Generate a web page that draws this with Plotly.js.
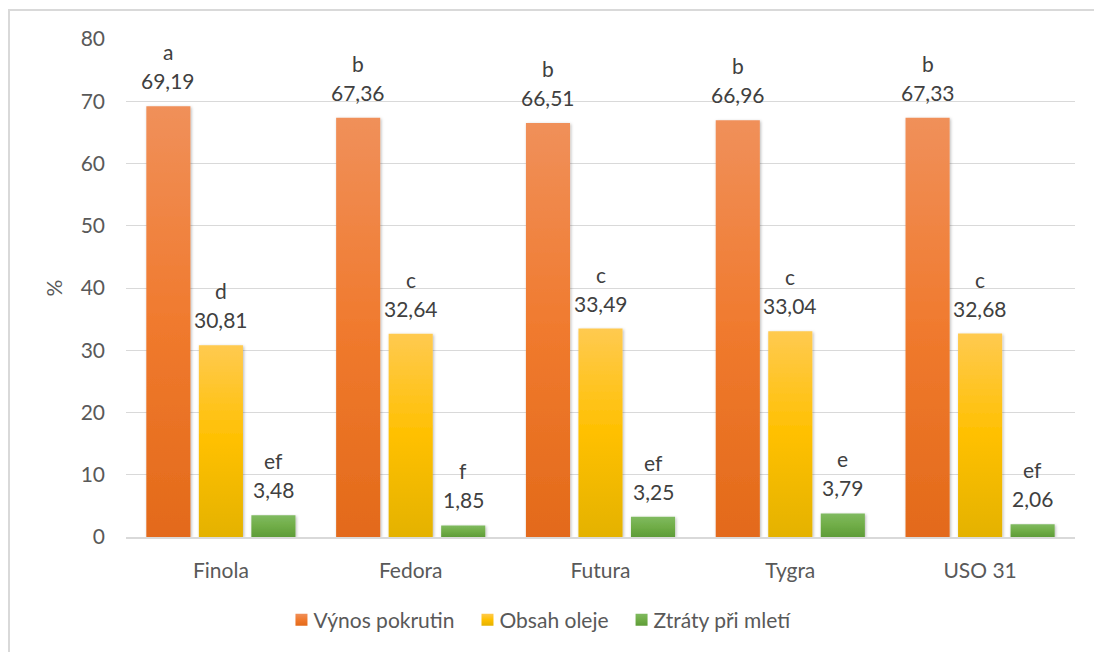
<!DOCTYPE html>
<html>
<head>
<meta charset="utf-8">
<script src="https://cdn.plot.ly/plotly-3.0.1.min.js"></script>
<style>
  html, body { margin: 0; padding: 0; background: #ffffff; overflow: hidden; }
  #wrap { position: relative; width: 1094px; height: 652px; }
  #chart { position: absolute; left: 0; top: 0; width: 1094px; height: 652px; }
  #frame { position: absolute; left: 8px; top: 9px; width: 1200px; height: 800px;
           border: 2px solid #d9d9d9; pointer-events: none; box-sizing: border-box; }
</style>
</head>
<body>
<div id="wrap">
  <div id="chart"></div>
  <div id="frame"></div>
</div>
<script>
// Odrůdy konopí
const categories = ['Finola', 'Fedora', 'Futura', 'Tygra', 'USO 31'];

// Sledované ukazatele (%)
const seriesNames = ['Výnos pokrutin', 'Obsah oleje', 'Ztráty při mletí'];
const vynosPokrutin = [69.19, 67.36, 66.51, 66.96, 67.33];
const obsahOleje    = [30.81, 32.64, 33.49, 33.04, 32.68];
const ztratyPriMleti = [3.48, 1.85, 3.25, 3.79, 2.06];

// Označení statisticky průkazných rozdílů
const vynosLetters  = ['a', 'b', 'b', 'b', 'b'];
const olejLetters   = ['d', 'c', 'c', 'c', 'c'];
const ztratyLetters = ['ef', 'f', 'ef', 'e', 'ef'];

const yTicks = [0, 10, 20, 30, 40, 50, 60, 70, 80];

const seriesValues = [vynosPokrutin, obsahOleje, ztratyPriMleti];
const seriesLetters = [vynosLetters, olejLetters, ztratyLetters];

// Barvy sloupců: horní, střední a spodní odstín přechodu
const gradients = [
  ['#f0905a', '#f07a2e', '#e36a1a'],
  ['#ffca50', '#ffc000', '#e4b200'],
  ['#80ba60', '#70ad47', '#5e9c38']
];

const FONT = 'Lato, Open Sans, sans-serif';
const FS = 21;
const labelColor = '#404040';
const axisColor = '#595959';
const BARGAP = 0.17;
const GROUPGAP = 0.16;

const traces = seriesValues.map((vals, k) => ({
  type: 'bar',
  name: seriesNames[k],
  x: categories,
  y: vals,
  marker: { color: gradients[k][1], line: { width: 0 } },
  hoverinfo: 'skip'
}));

// Popisky nad sloupci: hodnota a písmeno skupiny
const annotations = [];
const slot = (1 - BARGAP) / seriesValues.length;
seriesValues.forEach((vals, k) => {
  vals.forEach((v, i) => {
    const xpos = i + (k - (seriesValues.length - 1) / 2) * slot;
    annotations.push({
      xref: 'x', yref: 'y', x: xpos, y: v,
      text: v.toFixed(2).replace('.', ','),
      showarrow: false, yanchor: 'bottom', yshift: 11,
      font: { family: FONT, size: FS, color: labelColor }
    });
    annotations.push({
      xref: 'x', yref: 'y', x: xpos, y: v,
      text: seriesLetters[k][i],
      showarrow: false, yanchor: 'bottom', yshift: 40,
      font: { family: FONT, size: FS, color: labelColor }
    });
  });
});

const layout = {
  width: 1094,
  height: 652,
  margin: { l: 126, r: 19, t: 39, b: 115, pad: 0 },
  paper_bgcolor: 'rgba(0,0,0,0)',
  plot_bgcolor: 'rgba(0,0,0,0)',
  barmode: 'group',
  bargap: BARGAP,
  bargroupgap: GROUPGAP,
  font: { family: FONT, size: FS, color: axisColor },
  xaxis: {
    type: 'category',
    showline: true, linecolor: '#d9d9d9', linewidth: 1.5,
    showgrid: false, zeroline: false, ticks: '',
    ticklabelstandoff: 14,
    tickfont: { family: FONT, size: FS, color: axisColor }
  },
  yaxis: {
    range: [0, 80],
    tickvals: yTicks,
    ticktext: yTicks.map(String),
    showgrid: true, gridcolor: '#d9d9d9', gridwidth: 1,
    zeroline: false, showline: false, ticks: '',
    ticklabelstandoff: 20,
    tickfont: { family: FONT, size: FS, color: axisColor },
    title: { text: '%', standoff: 12, font: { family: FONT, size: FS, color: axisColor } }
  },
  legend: {
    orientation: 'h',
    xref: 'container', yref: 'container',
    x: 0.489, xanchor: 'center',
    y: 0.049, yanchor: 'middle',
    font: { family: FONT, size: FS, color: axisColor },
    traceorder: 'normal',
    itemclick: false, itemdoubleclick: false
  },
  annotations: annotations,
  showlegend: true
};

const gd = document.getElementById('chart');

// Přechodová výplň a jemný stín sloupců
function decorate() {
  const svg = gd.querySelector('svg.main-svg');
  if (!svg) return;
  const NS = 'http://www.w3.org/2000/svg';
  let defs = svg.querySelector('defs');
  if (!defs) { defs = document.createElementNS(NS, 'defs'); svg.insertBefore(defs, svg.firstChild); }
  if (!defs.querySelector('#barGrad0')) {
    gradients.forEach((g, k) => {
      const lg = document.createElementNS(NS, 'linearGradient');
      lg.setAttribute('id', 'barGrad' + k);
      lg.setAttribute('x1', '0'); lg.setAttribute('y1', '0');
      lg.setAttribute('x2', '0'); lg.setAttribute('y2', '1');
      [[0, g[0]], [0.5, g[1]], [1, g[2]]].forEach(([o, c]) => {
        const s = document.createElementNS(NS, 'stop');
        s.setAttribute('offset', o);
        s.setAttribute('stop-color', c);
        lg.appendChild(s);
      });
      defs.appendChild(lg);
    });
    const f = document.createElementNS(NS, 'filter');
    f.setAttribute('id', 'barShadow');
    f.setAttribute('x', '-30%'); f.setAttribute('y', '-5%');
    f.setAttribute('width', '160%'); f.setAttribute('height', '110%');
    const ds = document.createElementNS(NS, 'feDropShadow');
    ds.setAttribute('dx', '1'); ds.setAttribute('dy', '1');
    ds.setAttribute('stdDeviation', '1.8');
    ds.setAttribute('flood-color', '#000000');
    ds.setAttribute('flood-opacity', '0.28');
    f.appendChild(ds);
    defs.appendChild(f);
  }
  gd.querySelectorAll('.barlayer .trace').forEach((tr, k) => {
    tr.querySelectorAll('path').forEach(p => {
      p.style.fill = 'url(#barGrad' + k + ')';
      p.style.filter = 'url(#barShadow)';
    });
  });
  // Značka legendy blíže k popisku
  gd.querySelectorAll('.legend .traces').forEach((tr, k) => {
    tr.querySelectorAll('.legendpoints path').forEach(p => {
      p.style.fill = 'url(#barGrad' + k + ')';
    });
    const pts = tr.querySelector('.legendpoints');
    if (pts) pts.setAttribute('transform', 'translate(8,0)');
  });
}

Plotly.newPlot(gd, traces, layout, { displayModeBar: false, staticPlot: true }).then(() => {
  decorate();
  gd.on('plotly_afterplot', decorate);
});
</script>
</body>
</html>
